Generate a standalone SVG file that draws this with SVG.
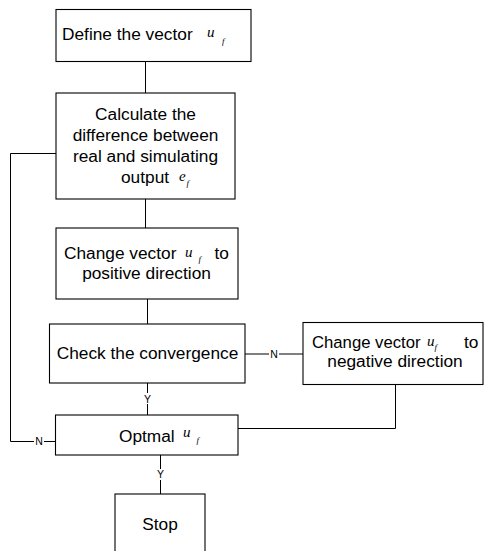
<svg xmlns="http://www.w3.org/2000/svg" width="484" height="551" viewBox="0 0 484 551">
<style>
.box{fill:#fff;stroke:#000;stroke-width:1.1}
.t{font-family:"Liberation Sans",Arial,sans-serif;font-size:17.3px;fill:#000}
.c{text-anchor:middle}
.m{font-family:"Liberation Serif","Times New Roman",serif;font-style:italic;font-size:15px;fill:#000}
.s{font-family:"Liberation Serif","Times New Roman",serif;font-style:italic;font-size:9px;fill:#000}
.lbl{font-family:"Liberation Sans",Arial,sans-serif;font-size:10.5px;fill:#000;text-anchor:middle}
.ln{fill:none;stroke:#000;stroke-width:1}
</style>
<rect width="484" height="551" fill="#fff"/>
<g id="connectors">
<path class="ln" d="M145.5 61.5V93"/>
<path class="ln" d="M145.5 199V228"/>
<path class="ln" d="M147.5 299V324"/>
<path class="ln" d="M245 354H269M279 354H303"/>
<path class="ln" d="M147.5 383V393M147.5 404V415"/>
<path class="ln" d="M238 428.5H395.5V384"/>
<path class="ln" d="M56 153.5H10.5V441.5H34M44 441.5H55"/>
<path class="ln" d="M160.5 455V469M160.5 480V494"/>
<text class="lbl" x="274" y="357.5">N</text>
<text class="lbl" x="39" y="445">N</text>
<text class="lbl" x="147.5" y="402.5">Y</text>
<text class="lbl" x="160.5" y="478">Y</text>
</g>
<g id="n1">
<rect class="box" x="56" y="9.5" width="195" height="52"/>
<text class="t" x="62" y="40">Define the vector</text>
<text class="m" x="207" y="37">u</text><text class="s" x="222" y="44">f</text>
</g>
<g id="n2">
<rect class="box" x="56" y="93" width="179" height="106"/>
<text class="t c" x="145.5" y="120">Calculate the</text>
<text class="t c" x="145.5" y="141">difference between</text>
<text class="t c" x="145.5" y="162">real and simulating</text>
<text class="t" x="121" y="183">output</text>
<text class="m" x="179" y="181">e</text><text class="s" x="186.5" y="186">f</text>
</g>
<g id="n3">
<rect class="box" x="56" y="228" width="182" height="71"/>
<text class="t" x="64" y="258.5">Change vector</text>
<text class="m" x="185" y="256.5">u</text><text class="s" x="198.5" y="262">f</text>
<text class="t" x="214.5" y="258.5">to</text>
<text class="t c" x="146.5" y="279">positive direction</text>
</g>
<g id="n4">
<rect class="box" x="49.5" y="324" width="195.5" height="59"/>
<text class="t c" x="147.5" y="359">Check the convergence</text>
</g>
<g id="n5">
<rect class="box" x="303" y="322.5" width="180" height="62"/>
<text class="t" x="312" y="348" style="font-size:16.7px">Change vector</text>
<text class="m" x="427" y="346">u</text><text class="s" x="434.5" y="350">f</text>
<text class="t" x="464" y="348">to</text>
<text class="t c" x="395" y="367">negative direction</text>
</g>
<g id="n6">
<rect class="box" x="55.5" y="415" width="182.5" height="40"/>
<text class="t" x="119" y="441.5">Optmal</text>
<text class="m" x="183" y="437">u</text><text class="s" x="196.5" y="443">f</text>
</g>
<g id="n7">
<rect class="box" x="115" y="494" width="90" height="70"/>
<text class="t c" x="160" y="529.5">Stop</text>
</g>
</svg>
